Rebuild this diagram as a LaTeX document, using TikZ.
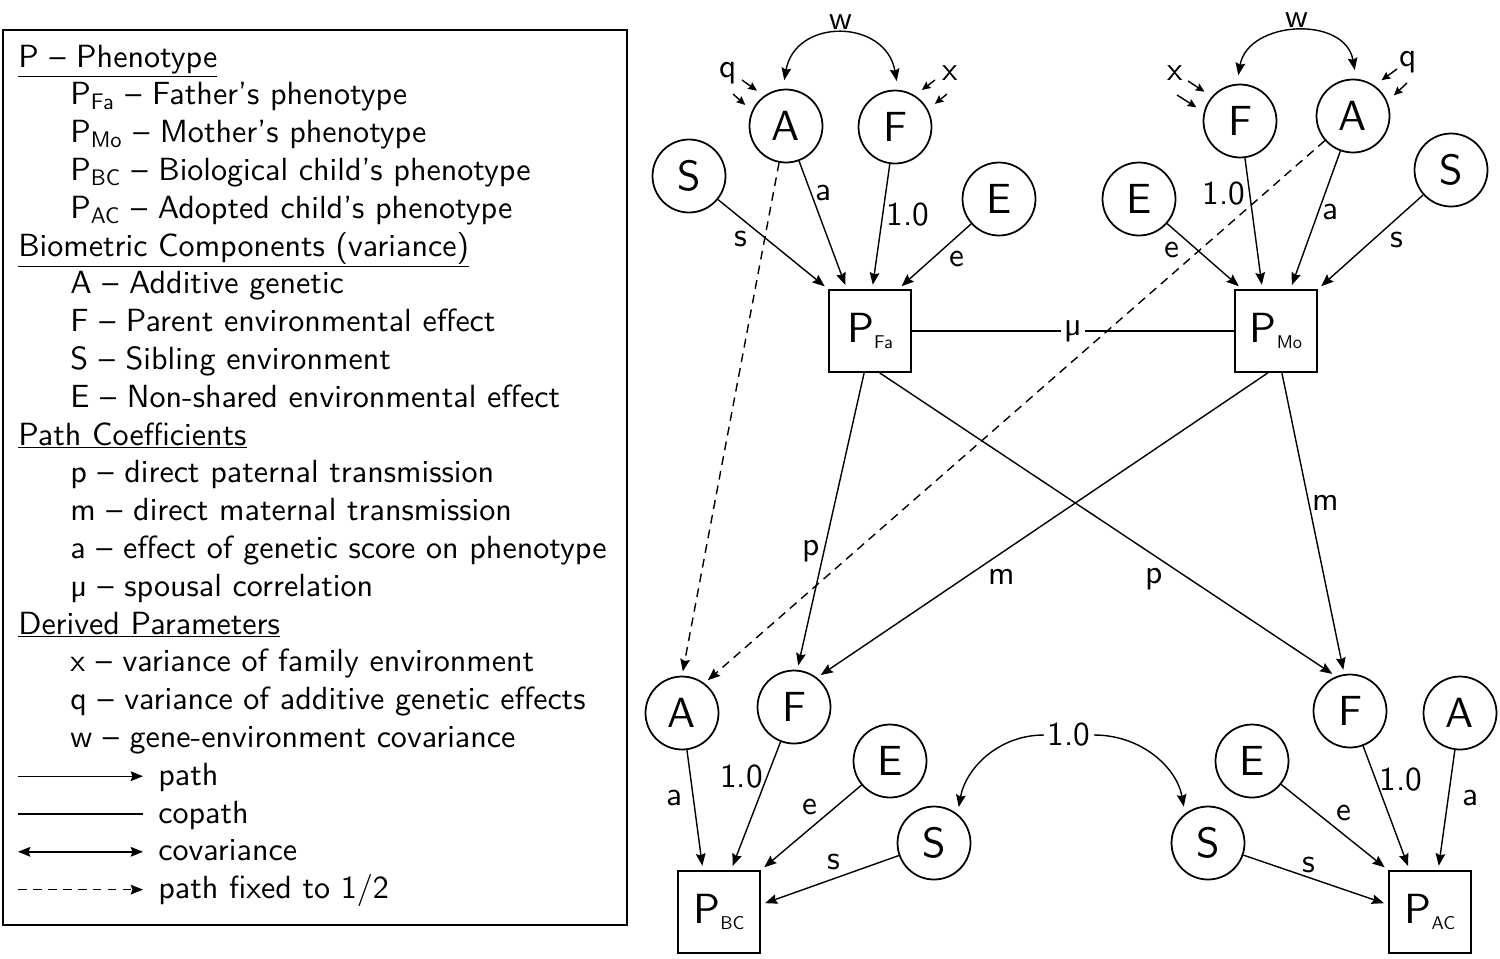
\documentclass[tikz,border=0pt]{standalone}
\usetikzlibrary{arrows.meta}
\DeclareFontFamily{TU}{lmsten}{}
\DeclareFontShape{TU}{lmsten}{m}{n}{<-> "[lmsans10-regular]:+tlig;"}{}
\renewcommand{\sfdefault}{lmsten}
\renewcommand{\familydefault}{\sfdefault}
\newcommand{\obs}[1]{P\raisebox{-3.5pt}{\fontsize{10.5}{10.5}\selectfont #1}}

\begin{document}
\begin{tikzpicture}[x=0.02cm, y=0.02cm,
  >={Stealth[length=7pt,width=5.5pt,inset=1pt]},
  latent/.style={circle, draw, line width=1pt, minimum size=1.46cm, inner sep=0pt, font=\fontsize{24}{24}\selectfont},
  observed/.style={rectangle, draw, line width=1pt, minimum size=1.64cm, inner sep=0pt, font=\fontsize{24}{24}\selectfont},
  lab/.style={font=\fontsize{19}{19}\selectfont, inner sep=2pt},
  arr/.style={->, line width=0.8pt, shorten >=2.5pt},
  covar/.style={<->, line width=0.8pt, shorten >=5pt, shorten <=5pt},
  half/.style={->, line width=0.8pt, dash pattern=on 5pt off 3.5pt, shorten >=2.5pt},
  copath/.style={line width=0.8pt},
  small/.style={-{Stealth[length=5pt,width=4.5pt,inset=0.8pt]}, line width=0.8pt, shorten >=5pt},
  legtext/.style={anchor=base west, inner sep=0pt, font=\fontsize{18.25}{20}\selectfont}]
\useasboundingbox (0,0) rectangle (1500,-958);

% legend
\draw[line width=1pt] (3,-30) rectangle (627,-925);
\foreach \lx/\ltext [count=\i] in {
  18/{\underline{P – Phenotype}},
  70/{P\textsubscript{Fa} – Father’s phenotype},
  70/{P\textsubscript{Mo} – Mother’s phenotype},
  70/{P\textsubscript{BC} – Biological child’s phenotype},
  70/{P\textsubscript{AC} – Adopted child’s phenotype},
  18/{\underline{Biometric Components (variance)}},
  70/{A – Additive genetic},
  70/{F – Parent environmental effect},
  70/{S – Sibling environment},
  70/{E – Non-shared environmental effect},
  18/{\underline{Path Coefficients}},
  70/{p – direct paternal transmission},
  70/{m – direct maternal transmission},
  70/{a – effect of genetic score on phenotype},
  70/{\textmu{} – spousal correlation},
  18/{\underline{Derived Parameters}},
  70/{x – variance of family environment},
  70/{q – variance of additive genetic effects},
  70/{w – gene-environment covariance},
  158/{path},
  158/{copath},
  158/{covariance},
  158/{path fixed to 1/2}}
  \node[legtext] (leg\i) at (\lx,{-67-37.8*(\i-1)}) {\ltext};
\foreach \i/\s in {20/arr, 21/copath, 22/covar, 23/half}
  \draw[\s, shorten >=0pt, shorten <=0pt] ([xshift=-2.8cm, yshift=0.18cm]leg\i.base west) -- ([xshift=-0.3cm, yshift=0.18cm]leg\i.base west);

% parents
\node[latent] (S1) at (689,-176) {S};
\node[latent] (A1) at (786,-126) {A};
\node[latent] (F1) at (895,-127) {F};
\node[latent] (E1) at (999,-199) {E};
\node[observed] (PFa) at (870,-331) {\obs{Fa}};
\node[latent] (E2) at (1139,-199) {E};
\node[latent] (F2) at (1240,-121) {F};
\node[latent] (A2) at (1353,-116) {A};
\node[latent] (S2) at (1451,-170) {S};
\node[observed] (PMo) at (1276,-331) {\obs{Mo}};

% children
\node[latent] (A3) at (682,-713) {A};
\node[latent] (F3) at (794,-707) {F};
\node[latent] (E3) at (890,-761) {E};
\node[latent] (S3) at (934,-843) {S};
\node[observed] (PBC) at (719,-912) {\obs{BC}};
\node[latent] (S4) at (1208,-843) {S};
\node[latent] (E4) at (1252,-761) {E};
\node[latent] (F4) at (1350,-711) {F};
\node[latent] (A4) at (1460,-713) {A};
\node[observed] (PAC) at (1430,-912) {\obs{AC}};

% variances
\node[lab] (q1) at (728,-73) {q};
\node[lab] (x1) at (950,-73) {x};
\node[lab] (x2) at (1175,-73) {x};
\node[lab] (q2) at (1408,-62) {q};
\coordinate (q1a) at (742,-80);
\coordinate (q1b) at (733,-94);
\coordinate (x1a) at (935,-80);
\coordinate (x1b) at (947,-94);
\coordinate (x2a) at (1188,-81);
\coordinate (x2b) at (1177,-95);
\coordinate (q2a) at (1397,-69);
\coordinate (q2b) at (1407,-83);
\draw[small] (q1a) -- (A1.126);
\draw[small] (q1b) -- (A1.156);
\draw[small] (x1a) -- (F1.58);
\draw[small] (x1b) -- (F1.28);
\draw[small] (x2a) -- (F2.139);
\draw[small] (x2b) -- (F2.166);
\draw[small] (q2a) -- (A2.55);
\draw[small] (q2b) -- (A2.23);

\draw[covar] (A1.95) to[out=80,in=100,looseness=1.6] node[lab,above=3pt,inner sep=0pt] {w} (F1.85);
\draw[covar] (F2.95) to[out=80,in=100,looseness=1.38] node[lab,above=3pt,inner sep=0pt] {w} (A2.85);

% paths into the parents
\draw[arr] (S1) -- node[lab,pos=0.3,below left] {s} (PFa.135);
\draw[arr] (A1) -- node[lab,pos=0.25,right] {a} (PFa.119);
\draw[arr] (F1) -- node[lab,pos=0.4,right] {1.0} (PFa.87);
\draw[arr] (E1) -- node[lab,pos=0.35,below right] {e} (PFa.56);
\draw[arr] (E2) -- node[lab,pos=0.22,below left] {e} (PMo.129);
\draw[arr] (F2) -- node[lab,pos=0.27,left] {1.0} (PMo.108);
\draw[arr] (A2) -- node[lab,pos=0.44,right] {a} (PMo.71);
\draw[arr] (S2) -- node[lab,pos=0.35,below right] {s} (PMo.45);

\draw[copath] (PFa) -- node[lab,fill=white] {\textmu} (PMo);

% transmission
\draw[half] (A1) -- (A3.90);
\draw[half] (A2) -- (A3.53);
\draw[arr] (PFa.262) -- node[lab,pos=0.6,left] {p} (F3.85);
\draw[arr] (PFa.283) -- node[lab,pos=0.63,below left] {p} (F4.112);
\draw[arr] (PMo.259) -- node[lab,pos=0.63,below right] {m} (F3.52);
\draw[arr] (PMo.278) -- node[lab,pos=0.43,right] {m} (F4.99);

% paths into the children
\draw[arr] (A3) -- node[lab,pos=0.4,left=4pt] {a} (PBC.111);
\draw[arr] (F3) -- node[lab,pos=0.27,left] {1.0} (PBC.74);
\draw[arr] (E3) -- node[lab,pos=0.4,above left] {e} (PBC.45);
\draw[arr] (S3) -- node[lab,pos=0.47,above=1mm] {s} (PBC.10);
\draw[arr] (S4) -- node[lab,pos=0.45,above] {s} (PAC.170);
\draw[arr] (E4) -- node[lab,pos=0.48,above right] {e} (PAC.135);
\draw[arr] (F4) -- node[lab,pos=0.27,right] {1.0} (PAC.116);
\draw[arr] (A4) -- node[lab,pos=0.4,right=6pt] {a} (PAC.79);

\node[lab] (cov) at (1069,-735) {1.0};
\draw[arr, shorten >=4pt] (cov.west) to[out=180,in=80] (S3.51);
\draw[arr, shorten >=4pt] (cov.east) to[out=0,in=100] (S4.128);
\end{tikzpicture}
\end{document}
